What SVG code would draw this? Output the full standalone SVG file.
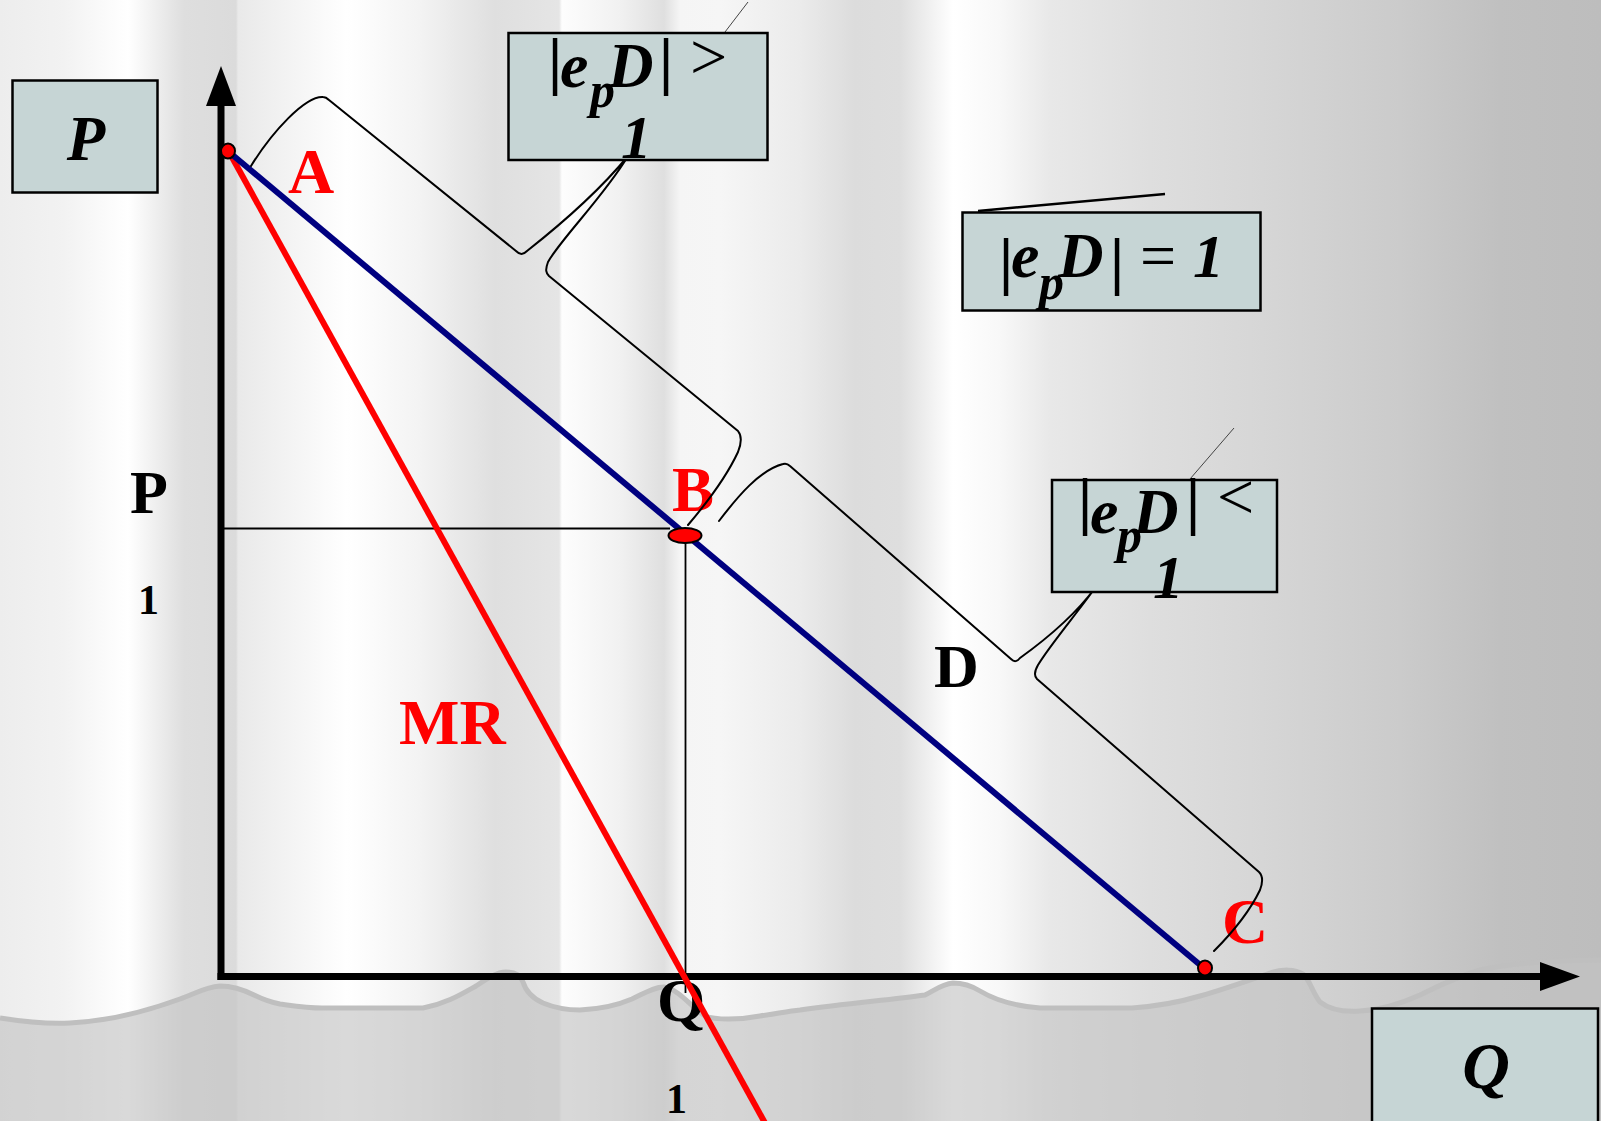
<svg xmlns="http://www.w3.org/2000/svg" width="1601" height="1121" viewBox="0 0 1601 1121">
<defs>
  <linearGradient id="bg" gradientUnits="userSpaceOnUse" x1="0" y1="0" x2="1601" y2="0">
    <stop offset="0" stop-color="#EDEDED"/>
    <stop offset="0.04" stop-color="#F2F2F2"/>
    <stop offset="0.08" stop-color="#FFFFFF"/>
    <stop offset="0.115" stop-color="#DEDEDE"/>
    <stop offset="0.1474" stop-color="#DBDBDB"/>
    <stop offset="0.1487" stop-color="#E9E9E9"/>
    <stop offset="0.2167" stop-color="#FFFFFF"/>
    <stop offset="0.2623" stop-color="#F3F3F3"/>
    <stop offset="0.3092" stop-color="#DFDFDF"/>
    <stop offset="0.3492" stop-color="#E5E5E5"/>
    <stop offset="0.351" stop-color="#FDFDFD"/>
    <stop offset="0.3873" stop-color="#F1F1F1"/>
    <stop offset="0.4147" stop-color="#DFDFDF"/>
    <stop offset="0.4247" stop-color="#F5F5F5"/>
    <stop offset="0.4497" stop-color="#F6F6F6"/>
    <stop offset="0.4997" stop-color="#EBEBEB"/>
    <stop offset="0.534" stop-color="#DCDCDC"/>
    <stop offset="0.5621" stop-color="#DEDEDE"/>
    <stop offset="0.5953" stop-color="#FFFFFF"/>
    <stop offset="0.6246" stop-color="#F8F8F8"/>
    <stop offset="0.6558" stop-color="#E8E8E8"/>
    <stop offset="0.7183" stop-color="#DEDEDE"/>
    <stop offset="0.7808" stop-color="#D7D7D7"/>
    <stop offset="0.8745" stop-color="#CBCBCB"/>
    <stop offset="0.9369" stop-color="#C0C0C0"/>
    <stop offset="1" stop-color="#BDBDBD"/>
  </linearGradient>
  <clipPath id="clipC"><rect x="1195" y="870" width="70" height="90"/></clipPath>
</defs>
<style>
  .lbl{font-family:"Liberation Serif","Times New Roman",serif;font-weight:bold}
  .red{fill:#FF0000}
  .blk{fill:#000000}
  .box{fill:#C6D5D5;stroke:#000000;stroke-width:2.5}
  .bx{font-family:"Liberation Serif","Times New Roman",serif;font-weight:bold;font-style:italic;fill:#000000}
  .bar{font-style:normal;font-weight:bold}
  .op{font-style:normal;font-weight:normal}
  .brace{fill:none;stroke:#000000;stroke-width:2;stroke-linejoin:round;stroke-linecap:round}
  .thin{fill:none;stroke:#444444;stroke-width:1}
  .guide{fill:none;stroke:#000000;stroke-width:1.8}
  .axis{fill:none;stroke:#000000;stroke-width:7}
  .dot{fill:#FF0000;stroke:#000000;stroke-width:2}
</style>

<!-- background -->
<rect x="0" y="0" width="1601" height="1121" fill="url(#bg)"/>
<path id="ground" d="M 0 1018 C 25 1022, 50 1024, 70 1023 C 110 1021, 150 1010, 180 999 C 196 993, 206 987, 220 986 C 234 986, 244 990, 254 995 C 264 1000, 270 1002, 280 1004 C 295 1006, 308 1008, 322 1008 L 423 1008 C 445 1004, 460 995, 476 986 C 488 978, 497 972, 506 972 C 516 972, 521 976, 523 982 C 526 992, 532 998, 543 1003 C 555 1008, 566 1010, 580 1010 C 602 1009, 618 1005, 632 999 C 645 993, 654 987, 664 987 C 680 990, 690 1006, 705 1016 C 715 1020, 740 1020, 760 1016 C 780 1013, 790 1011, 800 1010 C 850 1003, 890 1000, 925 995 C 935 990, 942 984, 953 983 C 965 983, 972 986, 980 991 C 995 1000, 1015 1006, 1040 1008 L 1132 1008 C 1160 1006, 1180 1002, 1200 996 C 1225 989, 1250 980, 1270 973 C 1282 969, 1295 969, 1303 974 C 1310 980, 1312 992, 1320 1002 C 1330 1010, 1345 1012, 1360 1011 C 1380 1010, 1400 1004, 1420 995 C 1440 985, 1460 976, 1480 970 C 1520 962, 1560 960, 1601 960 L 1601 1121 L 0 1121 Z" fill="#C3C3C3" fill-opacity="0.63"/>
<path d="M 0 1018 C 25 1022, 50 1024, 70 1023 C 110 1021, 150 1010, 180 999 C 196 993, 206 987, 220 986 C 234 986, 244 990, 254 995 C 264 1000, 270 1002, 280 1004 C 295 1006, 308 1008, 322 1008 L 423 1008 C 445 1004, 460 995, 476 986 C 488 978, 497 972, 506 972 C 516 972, 521 976, 523 982 C 526 992, 532 998, 543 1003 C 555 1008, 566 1010, 580 1010 C 602 1009, 618 1005, 632 999 C 645 993, 654 987, 664 987 C 680 990, 690 1006, 705 1016 C 715 1020, 740 1020, 760 1016 C 780 1013, 790 1011, 800 1010 C 850 1003, 890 1000, 925 995 C 935 990, 942 984, 953 983 C 965 983, 972 986, 980 991 C 995 1000, 1015 1006, 1040 1008 L 1132 1008 C 1160 1006, 1180 1002, 1200 996 C 1225 989, 1250 980, 1270 973 C 1282 969, 1295 969, 1303 974 C 1310 980, 1312 992, 1320 1002 C 1330 1010, 1345 1012, 1360 1011 C 1380 1010, 1400 1004, 1420 995 C 1440 985, 1460 976, 1480 970 C 1520 962, 1560 960, 1601 960" fill="none" stroke="#BFBFBF" stroke-width="5"/>

<!-- axis value labels -->
<g id="axis-labels">
  <text class="lbl blk" x="130" y="513" font-size="62">P</text>
  <text class="lbl blk" x="138" y="614" font-size="42">1</text>
  <text class="lbl blk" x="657" y="1021" font-size="62">Q</text>
  <text class="lbl blk" x="666" y="1113" font-size="42">1</text>
</g>

<!-- connectors -->
<g id="connectors">
  <path class="guide" d="M 224 528.5 H 670"/>
  <path class="guide" d="M 685.5 543 V 993"/>
  <path class="axis" d="M 221 100 V 980"/>
  <polygon points="221,66 206,106 236,106" fill="#000000"/>
  <path class="axis" d="M 217.5 976.5 H 1545"/>
  <polygon points="1580,976.5 1540,962 1540,991" fill="#000000"/>
  <path id="MR" d="M 228 150 L 765 1123" stroke="#FF0000" stroke-width="6" fill="none"/>
  <path id="demand" d="M 229 152 L 1205 969" stroke="#000080" stroke-width="6" fill="none"/>
</g>

<!-- points -->
<g id="point-A"><ellipse class="dot" cx="228" cy="151" rx="7" ry="7.5"/><text class="lbl red" x="288" y="193" font-size="64">A</text></g>
<g id="point-B"><ellipse class="dot" cx="685" cy="535.5" rx="16.5" ry="7.5"/><text class="lbl red" x="672" y="511" font-size="63">B</text></g>
<g id="point-C"><ellipse class="dot" cx="1205" cy="968" rx="7" ry="7.5"/><text class="lbl red" x="1222" y="943" font-size="64" clip-path="url(#clipC)">C</text></g>
<g id="label-MR"><text class="lbl red" x="399" y="744" font-size="64">MR</text></g>
<g id="label-D"><text class="lbl blk" x="934" y="687" font-size="62">D</text></g>

<!-- braces -->
<g id="braces">
  <path class="brace" d="M 251 166 C 272 132, 305 96, 323 97 C 326 97, 327 98, 329 100 L 516 251 C 520 255, 523 255, 527 251 C 560 225, 600 190, 628 156 C 605 195, 560 240, 548 262 C 545 270, 546 273, 549 276 L 738 431 C 742 436, 742 442, 738 452 C 725 480, 705 505, 688 525"/>
  <path class="brace" d="M 719 521 C 738 496, 760 470, 783 464 C 786 463, 788 464, 790 466 L 1011 659 C 1014 662, 1017 662, 1020 658 C 1045 640, 1075 615, 1095 588 C 1078 612, 1050 645, 1038 665 C 1034 672, 1034 676, 1037 679 L 1259 872 C 1263 876, 1263 882, 1260 890 C 1248 915, 1230 935, 1214 951"/>
  <path class="thin" d="M 725 32 L 748 2"/>
  <path class="thin" d="M 1190 479 L 1234 428"/>
  <path d="M 978 211 L 1165 194" fill="none" stroke="#000000" stroke-width="2.5"/>
</g>

<!-- boxes -->
<g id="box-P">
  <rect class="box" x="12.5" y="80.5" width="145" height="112"/>
  <text class="bx" x="86" y="160" font-size="63" text-anchor="middle">P</text>
</g>
<g id="box-elastic">
  <rect class="box" x="508.5" y="33" width="259" height="127"/>
  <text class="bx" font-size="60"><tspan class="bar" x="548" y="82" font-size="64">|</tspan><tspan x="560" y="87" font-size="64">e</tspan><tspan x="590" y="107" font-size="50">p</tspan><tspan x="608" y="87" font-size="63">D</tspan><tspan class="bar" x="659" y="82" font-size="64">|</tspan><tspan class="op" x="690" y="79" font-size="66">&gt;</tspan></text>
  <text class="bx" x="621" y="158" font-size="61">1</text>
</g>
<g id="box-unit">
  <rect class="box" x="962.5" y="212.5" width="298" height="98"/>
  <text class="bx" font-size="60"><tspan class="bar" x="999" y="282" font-size="64">|</tspan><tspan x="1011" y="277" font-size="64">e</tspan><tspan x="1039" y="299" font-size="50">p</tspan><tspan x="1058" y="277" font-size="63">D</tspan><tspan class="bar" x="1110" y="282" font-size="64">|</tspan><tspan class="op" x="1140" y="277" font-size="64" font-weight="bold">=</tspan><tspan x="1193" y="277" font-size="62">1</tspan></text>
</g>
<g id="box-inelastic">
  <rect class="box" x="1052" y="480" width="225" height="112"/>
  <text class="bx" font-size="60"><tspan class="bar" x="1078" y="522" font-size="64">|</tspan><tspan x="1090" y="533" font-size="64">e</tspan><tspan x="1117" y="552" font-size="50">p</tspan><tspan x="1133" y="533" font-size="63">D</tspan><tspan class="bar" x="1186" y="522" font-size="64">|</tspan><tspan class="op" x="1217" y="519" font-size="66">&lt;</tspan></text>
  <text class="bx" x="1153" y="598" font-size="61">1</text>
</g>
<g id="box-Q">
  <rect class="box" x="1372" y="1008.5" width="226" height="125"/>
  <text class="bx" x="1486" y="1088" font-size="66" text-anchor="middle">Q</text>
</g>
</svg>
